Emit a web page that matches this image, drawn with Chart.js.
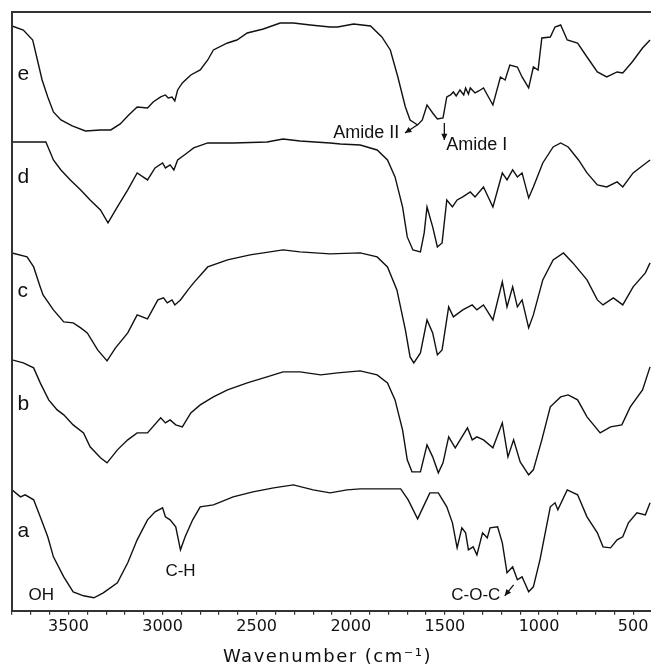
<!DOCTYPE html>
<html>
<head>
<meta charset="utf-8">
<script src="https://cdn.jsdelivr.net/npm/chart.js@4.4.1/dist/chart.umd.min.js"></script>
<style>
	html, body { margin: 0; padding: 0; background: #fff; }
	#wrap { width: 651px; height: 667px; }
</style>
</head>
<body>
<div id="wrap"><canvas id="ftirChart"></canvas></div>
<script>
// --- Data (y = offset above the x axis, arbitrary units) ---

// Spectrum e
const waveE = [3800, 3740, 3690, 3665, 3640, 3610, 3580, 3540, 3480, 3410, 3330, 3275, 3225, 3180, 3135, 3080, 3050, 3010, 2985, 2970, 2950, 2935, 2920, 2895, 2850, 2800, 2760, 2730, 2655, 2605, 2550, 2465, 2375, 2305, 2215, 2110, 2070, 1985, 1895, 1835, 1790, 1750, 1710, 1685, 1645, 1620, 1595, 1565, 1540, 1510, 1490, 1470, 1455, 1440, 1420, 1400, 1390, 1375, 1365, 1340, 1320, 1295, 1245, 1205, 1180, 1155, 1115, 1090, 1055, 1030, 1005, 985, 940, 915, 885, 850, 795, 745, 690, 640, 585, 555, 505, 450, 410];
const specE = [585, 581, 571, 551, 531, 514, 499, 491, 485, 480, 481, 481, 487, 496, 504, 503, 509, 514, 516, 513, 514, 510, 521, 528, 536, 541, 551, 561, 568, 571, 578, 582, 588, 588, 586, 584, 584, 587, 585, 574, 561, 534, 504, 491, 486, 491, 506, 498, 492, 493, 514, 516, 519, 515, 521, 516, 523, 517, 523, 518, 520, 523, 506, 534, 531, 546, 544, 534, 523, 544, 541, 573, 574, 584, 586, 571, 568, 554, 539, 534, 539, 538, 549, 563, 571];

// Spectrum d
const waveD = [3800, 3620, 3580, 3540, 3490, 3435, 3385, 3330, 3290, 3240, 3185, 3135, 3080, 3040, 3000, 2985, 2960, 2940, 2920, 2870, 2835, 2760, 2625, 2445, 2360, 2270, 2110, 2055, 1950, 1860, 1805, 1765, 1725, 1700, 1670, 1630, 1610, 1595, 1565, 1540, 1515, 1490, 1460, 1435, 1405, 1365, 1340, 1295, 1245, 1195, 1170, 1140, 1115, 1090, 1055, 1030, 980, 925, 885, 845, 790, 745, 690, 640, 585, 555, 500, 445, 410];
const specD = [469, 469, 451, 441, 431, 421, 411, 401, 388, 404, 421, 438, 431, 443, 448, 443, 446, 441, 451, 458, 463, 468, 468, 469, 472, 470, 468, 467, 466, 461, 451, 434, 404, 374, 361, 359, 378, 404, 384, 364, 368, 411, 404, 411, 414, 419, 414, 424, 404, 438, 431, 441, 434, 438, 413, 424, 448, 464, 468, 464, 451, 438, 426, 424, 429, 424, 438, 446, 451];

// Spectrum c
const waveC = [3800, 3720, 3685, 3650, 3635, 3580, 3525, 3475, 3435, 3400, 3345, 3295, 3250, 3185, 3135, 3080, 3025, 2995, 2975, 2950, 2935, 2905, 2865, 2835, 2760, 2655, 2535, 2360, 2270, 2110, 1950, 1860, 1805, 1755, 1710, 1685, 1665, 1630, 1595, 1565, 1540, 1515, 1480, 1455, 1405, 1355, 1330, 1295, 1245, 1195, 1170, 1140, 1115, 1090, 1055, 1030, 980, 925, 870, 820, 745, 690, 660, 605, 555, 500, 435, 410];
const specC = [358, 354, 344, 324, 316, 301, 289, 288, 283, 278, 261, 250, 263, 278, 296, 292, 311, 313, 308, 311, 306, 311, 321, 328, 344, 351, 356, 361, 359, 357, 358, 354, 344, 321, 281, 254, 248, 258, 291, 278, 256, 261, 304, 294, 301, 306, 301, 306, 291, 329, 304, 324, 304, 311, 283, 296, 331, 351, 358, 348, 331, 311, 306, 313, 306, 324, 338, 348];

// Spectrum b
const waveB = [3800, 3740, 3685, 3650, 3605, 3560, 3525, 3475, 3420, 3385, 3330, 3295, 3240, 3185, 3135, 3080, 3010, 2985, 2960, 2930, 2895, 2850, 2800, 2730, 2655, 2550, 2445, 2360, 2270, 2160, 2070, 1950, 1860, 1805, 1765, 1725, 1700, 1675, 1630, 1595, 1565, 1535, 1510, 1480, 1445, 1380, 1355, 1330, 1295, 1245, 1195, 1165, 1135, 1100, 1055, 1030, 985, 940, 885, 845, 795, 745, 675, 620, 560, 515, 450, 410];
const specB = [251, 248, 243, 228, 211, 201, 196, 186, 178, 164, 153, 148, 161, 171, 178, 178, 193, 188, 191, 186, 184, 198, 206, 214, 221, 228, 234, 239, 239, 236, 238, 240, 236, 228, 211, 181, 151, 139, 139, 166, 154, 138, 148, 174, 163, 183, 171, 174, 171, 163, 188, 154, 171, 149, 136, 141, 171, 204, 214, 216, 211, 194, 178, 184, 186, 204, 221, 244];

// Spectrum a
const waveA = [3800, 3755, 3730, 3685, 3650, 3610, 3580, 3525, 3475, 3420, 3365, 3315, 3240, 3185, 3135, 3080, 3040, 3000, 2985, 2960, 2930, 2905, 2880, 2840, 2800, 2730, 2625, 2520, 2410, 2305, 2200, 2110, 2020, 1950, 1735, 1695, 1645, 1615, 1580, 1535, 1490, 1460, 1435, 1410, 1390, 1375, 1350, 1330, 1300, 1275, 1260, 1220, 1195, 1170, 1140, 1115, 1090, 1055, 1030, 995, 940, 915, 900, 850, 795, 745, 690, 660, 620, 585, 555, 525, 480, 435, 410];
const specA = [121, 114, 116, 111, 94, 74, 54, 34, 19, 15, 13, 18, 28, 48, 71, 91, 99, 103, 94, 91, 84, 61, 74, 91, 104, 106, 114, 119, 123, 126, 121, 118, 121, 122, 122, 111, 92, 104, 118, 118, 104, 88, 63, 83, 78, 61, 64, 56, 78, 73, 83, 84, 68, 38, 44, 31, 34, 19, 24, 51, 104, 108, 101, 121, 116, 94, 78, 64, 63, 71, 74, 88, 98, 96, 108];

// Axis
const majorTicks = [3500, 3000, 2500, 2000, 1500, 1000, 500];
const X_MIN = 405;
const X_MAX = 3800;
const MINOR_STEP = 100;
const Y_MAX = 599;
const X_TITLE = 'Wavenumber (cm⁻¹)';

// --- Helpers ---

const toPoints = (waves, values) => waves.map((w, i) => ({ x: w, y: values[i] }));

const spectrum = (label, waves, values) => ({
	label: label,
	data: toPoints(waves, values),
	borderColor: '#111',
	borderWidth: 1.4,
	pointRadius: 0,
	tension: 0
});

// Text + arrows, anchored in data units
const LABEL_FONT = '"Liberation Sans", Arial, sans-serif';
const annotations = {
	texts: [
		{ text: 'e', x: 3771, y: 531, size: 21 },
		{ text: 'd', x: 3771, y: 428, size: 21 },
		{ text: 'c', x: 3771, y: 314, size: 21 },
		{ text: 'b', x: 3771, y: 201, size: 21 },
		{ text: 'a', x: 3771, y: 74, size: 21 },
		{ text: 'OH', x: 3712, y: 11, size: 17 },
		{ text: 'C-H', x: 2985, y: 35, size: 17 },
		{ text: 'Amide II', x: 2093, y: 473, size: 18 },
		{ text: 'Amide I', x: 1493, y: 461, size: 18 },
		{ text: 'C-O-C', x: 1466, y: 11, size: 17 }
	],
	arrows: [
		{ from: [1647, 486], to: [1712, 478] }, // Amide II
		{ from: [1503, 488], to: [1503, 471] }, // Amide I
		{ from: [1135, 26], to: [1182, 15] }    // C-O-C
	]
};

// Left + top frame lines, annotations and the spaced-out axis title
const framePlugin = {
	id: 'frame',
	afterDraw(chart) {
		const { ctx, chartArea: a, scales: { x, y } } = chart;
		ctx.save();
		ctx.strokeStyle = '#333';
		ctx.lineWidth = 2;
		ctx.beginPath();
		ctx.moveTo(a.left, a.bottom);
		ctx.lineTo(a.left, a.top);
		ctx.lineTo(chart.width, a.top);
		ctx.stroke();

		ctx.fillStyle = '#111';
		ctx.textBaseline = 'alphabetic';
		ctx.textAlign = 'left';
		annotations.texts.forEach(t => {
			ctx.font = `${t.size}px ${LABEL_FONT}`;
			ctx.fillText(t.text, x.getPixelForValue(t.x), y.getPixelForValue(t.y));
		});

		ctx.strokeStyle = '#111';
		ctx.lineWidth = 1.3;
		annotations.arrows.forEach(ar => {
			const x0 = x.getPixelForValue(ar.from[0]), y0 = y.getPixelForValue(ar.from[1]);
			const x1 = x.getPixelForValue(ar.to[0]), y1 = y.getPixelForValue(ar.to[1]);
			const ang = Math.atan2(y1 - y0, x1 - x0);
			ctx.beginPath();
			ctx.moveTo(x0, y0);
			ctx.lineTo(x1, y1);
			ctx.stroke();
			ctx.beginPath();
			ctx.moveTo(x1, y1);
			ctx.lineTo(x1 - 7 * Math.cos(ang - 0.45), y1 - 7 * Math.sin(ang - 0.45));
			ctx.lineTo(x1 - 7 * Math.cos(ang + 0.45), y1 - 7 * Math.sin(ang + 0.45));
			ctx.closePath();
			ctx.fill();
		});

		// axis title, letter-spaced like the original figure
		ctx.font = '18px "DejaVu Sans", sans-serif';
		ctx.letterSpacing = '1.5px';
		ctx.textAlign = 'center';
		ctx.textBaseline = 'middle';
		ctx.fillText(X_TITLE, (a.left + a.right) / 2 - 4, x.bottom + 19);
		ctx.restore();
	}
};

new Chart(document.getElementById('ftirChart'), {
	type: 'line',
	data: {
		datasets: [
			spectrum('e', waveE, specE),
			spectrum('d', waveD, specD),
			spectrum('c', waveC, specC),
			spectrum('b', waveB, specB),
			spectrum('a', waveA, specA)
		]
	},
	options: {
		responsive: true,
		maintainAspectRatio: false,
		animation: false,
		layout: { padding: { left: 12, top: 12, right: 0, bottom: 29 } },
		plugins: {
			legend: { display: false },
			tooltip: { enabled: false }
		},
		scales: {
			x: {
				type: 'linear',
				reverse: true,
				min: X_MIN,
				max: X_MAX,
				afterBuildTicks: scale => {
					const ticks = [];
					for (let v = 500; v <= X_MAX; v += MINOR_STEP) ticks.push({ value: v });
					scale.ticks = ticks;
				},
				grid: { drawOnChartArea: false, tickLength: 4, color: '#333', lineWidth: 1.2 },
				border: { display: true, color: '#333', width: 2 },
				ticks: {
					autoSkip: false,
					maxRotation: 0,
					padding: 2,
					color: '#111',
					font: { family: '"DejaVu Sans", sans-serif', size: 16 },
					callback: v => (majorTicks.includes(Math.round(Number(v))) ? String(Math.round(Number(v))) : '')
				}
			},
			y: {
				display: false,
				min: 0,
				max: Y_MAX
			}
		}
	},
	plugins: [framePlugin]
});
</script>
</body>
</html>
